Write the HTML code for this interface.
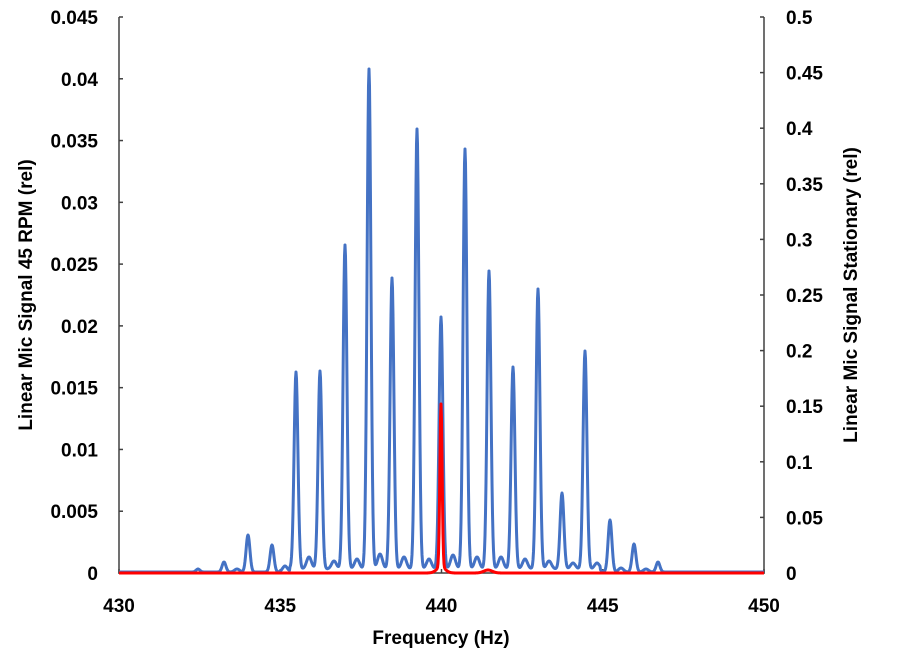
<!DOCTYPE html>
<html><head><meta charset="utf-8"><style>
body{margin:0;background:#fff;}
svg text{font-family:"Liberation Sans",Arial,sans-serif;font-weight:bold;fill:#000;}
</style></head><body>
<svg id="s" width="908" height="659" xmlns="http://www.w3.org/2000/svg">
<g id="ax" stroke="#404040" stroke-width="1.5" fill="none">
<line x1="119" y1="17" x2="119" y2="574"/>
<line x1="764" y1="17" x2="764" y2="574"/>
<line x1="119" y1="573" x2="764" y2="573"/>
</g>
<path id="blue" fill="none" stroke="#4472C4" stroke-width="3" stroke-linejoin="round"/>
<path id="red" fill="none" stroke="#FF0000" stroke-width="3" stroke-linejoin="round"/>
<g id="lab" font-size="19"></g>
<text x="441" y="644" font-size="19" text-anchor="middle">Frequency (Hz)</text>
<text transform="translate(32,295) rotate(-90)" font-size="19" text-anchor="middle">Linear Mic Signal 45 RPM (rel)</text>
<text transform="translate(857,295) rotate(-90)" font-size="19" text-anchor="middle">Linear Mic Signal Stationary (rel)</text>
</svg>
<script>
var NS="http://www.w3.org/2000/svg";
function el(t,a,p,txt){var e=document.createElementNS(NS,t);for(var k in a)e.setAttribute(k,a[k]);if(txt!=null)e.textContent=txt;p.appendChild(e);return e;}
var lab=document.getElementById('lab'),ax=document.getElementById('ax');
var L=["0","0.005","0.01","0.015","0.02","0.025","0.03","0.035","0.04","0.045"];
for(var i=0;i<10;i++){var y=573-i*556/9;el('text',{x:98,y:y+7,'text-anchor':'end'},lab,L[i]);el('line',{x1:119,y1:y,x2:123,y2:y},ax);}
var R=["0","0.05","0.1","0.15","0.2","0.25","0.3","0.35","0.4","0.45","0.5"];
for(var i=0;i<11;i++){var y=573-i*556/10;el('text',{x:786,y:y+7,'text-anchor':'start'},lab,R[i]);el('line',{x1:760,y1:y,x2:764,y2:y},ax);}
var X=["430","435","440","445","450"];
for(var i=0;i<5;i++){var x=119+i*645/4;el('text',{x:x,y:612,'text-anchor':'middle'},lab,X[i]);el('line',{x1:x,y1:569,x2:x,y2:573},ax);}
var pk=[[198,3],[224,10],[248,37],[272,27],[296,197],[320,198],[345,324],[369,500],[392,291],[417,440],[441,252],[465,420],[489,298],[513,202],[538,280],[562,76],[585,218],[610,52],[634,28],[658,10],
[237,3],[285,6],[309,12],[334,8],[357,10],[380,15],[404,12],[429,10],[453,14],[477,12],[501,12],[525,10],[549,8],[573,6],[597,6],[621,4],[646,3]];
var d="";
for(var x=119;x<=764;x+=0.5){var v=0;for(var j=0;j<pk.length;j++){var c=pk[j][0],w=j<20?2.7:3.5;v+=pk[j][1]*Math.exp(-Math.pow((x-c)/w,2));}
if(x>=290&&x<=600)v+=3;
d+=(x==119?"M":"L")+x+","+(572-v).toFixed(1);}
document.getElementById('blue').setAttribute('d',d);
var r="";
for(var x=119;x<=764;x+=0.5){var v=163*Math.exp(-Math.pow((x-441)/1.6,2))+6*Math.exp(-Math.pow((x-441)/6,2))+3*Math.exp(-Math.pow((x-488)/6,2));
r+=(x==119?"M":"L")+x+","+(573-v).toFixed(1);}
document.getElementById('red').setAttribute('d',r);
</script>
</body></html>
